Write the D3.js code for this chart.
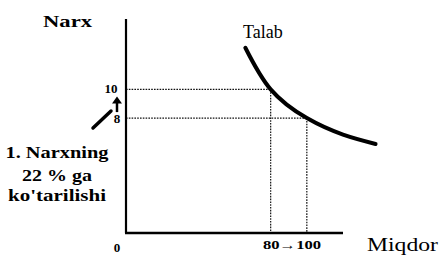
<!DOCTYPE html>
<html>
<head>
<meta charset="utf-8">
<script src="https://cdn.jsdelivr.net/npm/d3@7"></script>
<style>
  body{margin:0;background:#fff;}
</style>
</head>
<body>
<div id="chart"></div>
<script>
// demand curve (quantity, price)
var curveQty=[66,80,100,120,138];
var curvePrice=[12.9,10.0,8.0,6.85,6.2];
// the price change and the quantity change
var prices=[10,8];
var quantities=[80,100];
var priceLabels=["10","8"];
var qtyLabel="80\u2192100";
var noteLines=["1. Narxning","22 % ga","ko'tarilishi"];

var W=444,H=256;
var svg=d3.select("#chart").append("svg")
    .attr("width",W).attr("height",H);

var x=d3.scaleLinear().domain([0,120]).range([126,343]);
var y=d3.scaleLinear().domain([0,14.9]).range([233,19]);
var serif="'Liberation Serif','DejaVu Serif','Nimbus Roman','FreeSerif','Times New Roman',Times,serif";

// dotted guide lines
var g=svg.append("g");
prices.forEach(function(p,i){
    g.append("line")
        .attr("x1",x(0)).attr("x2",x(quantities[i]))
        .attr("y1",y(p)).attr("y2",y(p))
        .attr("stroke","#111").attr("stroke-width",1.2)
        .attr("stroke-dasharray","1.6,1.2");
    g.append("line")
        .attr("x1",x(quantities[i])).attr("x2",x(quantities[i]))
        .attr("y1",y(p)).attr("y2",y(0))
        .attr("stroke","#111").attr("stroke-width",1.2)
        .attr("stroke-dasharray","1.6,1.2");
});

// axes
svg.append("line")
    .attr("x1",x(0)).attr("x2",x(0))
    .attr("y1",y(14.9)).attr("y2",y(0))
    .attr("stroke","#000").attr("stroke-width",2.2);
svg.append("line")
    .attr("x1",x(0)-1).attr("x2",x(120))
    .attr("y1",y(0)).attr("y2",y(0))
    .attr("stroke","#000").attr("stroke-width",2.6);

// demand curve
var line=d3.line()
    .x(function(d){return x(d[0])})
    .y(function(d){return y(d[1])})
    .curve(d3.curveNatural);
svg.append("path")
    .datum(d3.zip(curveQty,curvePrice))
    .attr("d",line)
    .attr("fill","none")
    .attr("stroke","#000")
    .attr("stroke-width",4)
    .attr("stroke-linecap","round");

function txt(xp,yp,size,bold,s){
    return svg.append("text").attr("x",xp).attr("y",yp)
        .style("font-family",serif)
        .attr("font-size",size)
        .attr("font-weight",bold?"bold":"normal")
        .attr("fill","#000")
        .text(s);
}

// titles
txt(43,27,17,true,"Narx").attr("textLength",49).attr("lengthAdjust","spacingAndGlyphs");
txt(243,38,18,false,"Talab");
txt(367,251,19,false,"Miqdor").attr("textLength",71).attr("lengthAdjust","spacingAndGlyphs");
txt(x(0)-9,252,13,true,"0").attr("text-anchor","middle");

// price labels and arrow
txt(111,y(prices[0])+4,12,true,priceLabels[0])
    .attr("text-anchor","middle").attr("textLength",13)
    .attr("lengthAdjust","spacingAndGlyphs");
txt(117,y(prices[1])+5,13,true,priceLabels[1]).attr("text-anchor","middle");
svg.append("line")
    .attr("x1",117).attr("x2",117)
    .attr("y1",y(prices[1])-6).attr("y2",y(prices[0])+12)
    .attr("stroke","#000").attr("stroke-width",2.5);
svg.append("path")
    .attr("d","M112,"+(y(prices[0])+14)+" L117,"+(y(prices[0])+7)+" L122,"+(y(prices[0])+14)+"Z")
    .attr("fill","#000");
svg.append("line")
    .attr("x1",93).attr("y1",128).attr("x2",111).attr("y2",111)
    .attr("stroke","#000").attr("stroke-width",3.5)
    .attr("stroke-linecap","round");

// quantity label
txt(292,249,12,true,qtyLabel)
    .attr("text-anchor","middle").attr("textLength",58)
    .attr("lengthAdjust","spacingAndGlyphs");

// note text
var widths=[103,70,98];
var baselines=[158,181,201];
noteLines.forEach(function(t,i){
    txt(57,baselines[i],17,true,t)
        .attr("text-anchor","middle")
        .attr("textLength",widths[i]).attr("lengthAdjust","spacingAndGlyphs");
});
</script>
</body>
</html>
